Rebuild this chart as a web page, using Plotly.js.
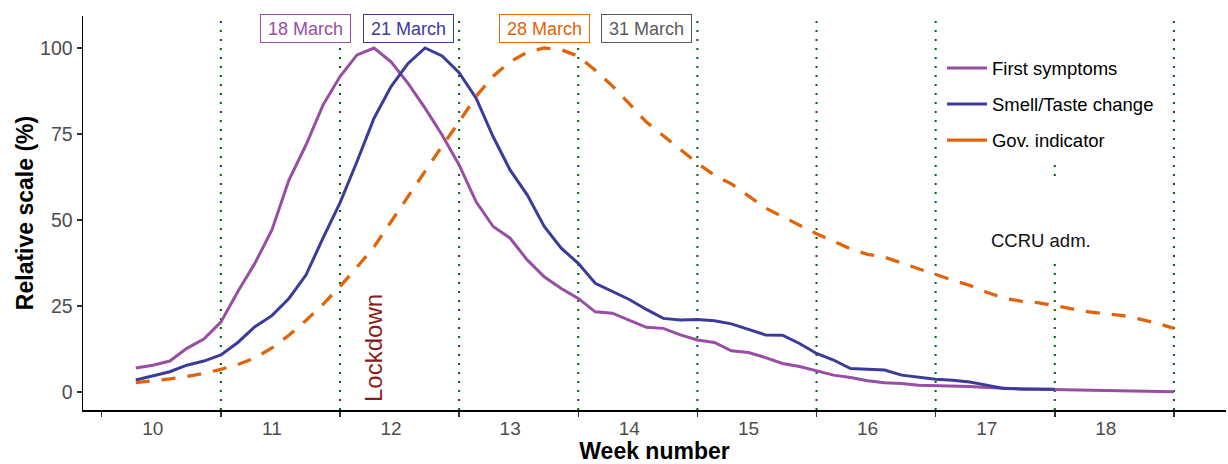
<!DOCTYPE html>
<html>
<head>
<meta charset="utf-8">
<script src="https://cdn.plot.ly/plotly-3.0.1.min.js"></script>
<style>html,body{margin:0;padding:0;background:#fff;}#chart{width:1228px;height:464px;}</style>
</head>
<body>
<div id="chart"></div>
<script>
// Day index: 0 = Monday 2 March 2020 (start of ISO week 10)
const days = [2,3,4,5,6,7,8,9,10,11,12,13,14,15,16,17,18,19,20,21,22,23,24,25,26,27,28,29,30,31,32,33,34,35,36,37,38,39,40,41,42,43,44,45,46,47,48,49,50,51,52,53,54,55,56,57,58,59,60,61,62,63];
const smellDays = [2,3,4,5,6,7,8,9,10,11,12,13,14,15,16,17,18,19,20,21,22,23,24,25,26,27,28,29,30,31,32,33,34,35,36,37,38,39,40,41,42,43,44,45,46,47,48,49,50,51,52,53,54,55,56];

const firstSymptoms = [7.0,7.8,9.0,12.7,15.4,20.3,29.2,37.4,47.1,61.6,
  71.8,83.4,91.7,98.0,100,96.0,89.7,82.5,74.7,66.0,
  55.3,48.1,44.7,38.4,33.5,30.1,27.2,23.3,22.9,20.9,
  18.8,18.5,16.6,15.1,14.4,12.0,11.5,10.0,8.3,7.4,
  6.1,4.9,4.2,3.3,2.7,2.5,2.0,1.9,1.9,1.6,
  1.3,1.0,0.9,0.8,0.7,0.6,0.5,0.5,0.4,0.3,
  0.2,0.1];

const smellTaste = [3.5,4.7,5.9,7.8,9.0,10.8,14.4,19.0,22.2,27.2,
  34.0,44.7,55.0,67.0,79.6,88.8,95.5,100,97.7,92.8,
  85.4,74.2,64.5,57.3,48.1,41.8,37.4,31.6,29.2,26.9,
  24.0,21.4,20.9,21.1,20.7,19.8,18.2,16.6,16.5,14.1,
  11.2,9.3,6.8,6.7,6.4,4.9,4.3,3.7,3.4,2.9,
  2.0,1.0,0.9,0.8,0.8];

const govIndicator = [2.7,3.2,3.8,4.5,5.4,6.6,8.0,9.9,12.8,16.5,
  20.8,25.5,30.7,36.3,42.2,49.5,56.8,64.5,71.5,78.5,
  86.0,91.8,96.0,98.8,100,99.5,97.6,93.5,89.0,83.8,
  78.5,74.5,70.5,66.5,63.0,60.5,57.0,53.5,51.0,48.5,
  46.0,43.8,41.6,40.0,39.2,37.5,35.8,34.2,32.5,31.0,
  29.0,27.3,26.4,26.0,25.2,24.2,23.3,22.7,22.2,21.2,
  20.0,18.5];

const seriesNames = ['First symptoms','Smell/Taste change','Gov. indicator'];
const weekTicks = [0,7,14,21,28,35,42,49,56,63];
const weekLines = [7,14,21,28,35,42,49,56,63];
const weekLabelDays = [3,10,17,24,31,38,45,52,59];
const weekLabels = ['10','11','12','13','14','15','16','17','18'];
const yTicks = [0,25,50,75,100];

const dateLabels = ['18 March','21 March','28 March','31 March'];
const dateLabelDays = [12,18,26,32];

const C_PURPLE = '#984EA3', C_BLUE = '#3B3B9B', C_ORANGE = '#E0640A', C_GREY = '#5A5A5A';
const dateColors = [C_PURPLE, C_BLUE, C_ORANGE, C_GREY];
const FONT = 'Liberation Sans, Arial, Helvetica, sans-serif';

const traces = [
  {x: days, y: firstSymptoms, type: 'scatter', mode: 'lines', showlegend: false,
   line: {color: C_PURPLE, width: 3}, hoverinfo: 'skip'},
  {x: smellDays, y: smellTaste, type: 'scatter', mode: 'lines', showlegend: false,
   line: {color: C_BLUE, width: 3}, hoverinfo: 'skip'},
  {x: days, y: govIndicator, type: 'scatter', mode: 'lines', showlegend: false,
   line: {color: C_ORANGE, width: 3.3, dash: '14px,12px'}, hoverinfo: 'skip'},
  // legend keys (solid, as in the reference key)
  {x: [null], y: [null], xaxis: 'x2', type: 'scatter', mode: 'lines', name: seriesNames[0],
   legendgroup: 'a', line: {color: C_PURPLE, width: 3}},
  {x: [null], y: [null], xaxis: 'x2', type: 'scatter', mode: 'lines', name: seriesNames[1],
   legendgroup: 'b', line: {color: C_BLUE, width: 3}},
  {x: [null], y: [null], xaxis: 'x2', type: 'scatter', mode: 'lines', name: seriesNames[2],
   legendgroup: 'c', line: {color: C_ORANGE, width: 3.3}}
];

const shapes = weekLines.map(d => ({
  type: 'line', xref: 'x', yref: 'paper', x0: d, x1: d, y0: 0, y1: 1, layer: 'below',
  line: {color: '#006400', width: 2, dash: '2px,7px'}
}));
// white background of the legend area (above the legend box)
shapes.push({type: 'rect', xref: 'paper', yref: 'paper', x0: 0.80, x1: 0.90, y0: 0.88, y1: 1.0,
  layer: 'below', fillcolor: '#ffffff', line: {width: 0}});

const annotations = dateLabels.map((t, i) => ({
  x: dateLabelDays[i], y: 105.7, xref: 'x', yref: 'y', text: t, showarrow: false,
  font: {family: FONT, size: 18, color: dateColors[i]},
  bgcolor: '#ffffff', bordercolor: dateColors[i], borderwidth: 1, borderpad: 2,
  width: 85, height: 23
}));
annotations.push({
  x: 16.0, y: 12.8, xref: 'x', yref: 'y', text: 'Lockdown', textangle: -90, showarrow: false,
  font: {family: FONT, size: 24, color: '#8B1A1A'}
});
annotations.push({
  x: 55.2, y: 49.3, xref: 'x', yref: 'y', text: 'CCRU adm.', showarrow: false,
  font: {family: FONT, size: 18.5, color: '#111111'},
  bgcolor: '#ffffff', borderwidth: 0, borderpad: 11, height: 57, valign: 'bottom'
});

const layout = {
  width: 1228, height: 464,
  margin: {l: 83, r: 2, t: 16, b: 54},
  paper_bgcolor: '#ffffff', plot_bgcolor: '#ffffff',
  font: {family: FONT, color: '#000000'},
  showlegend: true,
  legend: {
    x: 0.7515, xanchor: 'left', y: 0.915, yanchor: 'top',
    bgcolor: '#ffffff', borderwidth: 0, itemwidth: 40,
    traceorder: 'grouped', tracegroupgap: 9,
    font: {family: FONT, size: 18.5, color: '#000000'}
  },
  xaxis: {
    range: [-1.1, 66.06], showgrid: false, zeroline: false,
    showline: true, linecolor: '#000000', linewidth: 1.5,
    tickmode: 'array', tickvals: weekTicks, showticklabels: false,
    ticks: 'outside', ticklen: 5, tickwidth: 1.5, tickcolor: '#333333'
  },
  xaxis2: {
    overlaying: 'x', anchor: 'y', side: 'bottom',
    range: [-1.1, 66.06], showgrid: false, zeroline: false, showline: false,
    tickmode: 'array', tickvals: weekLabelDays, ticktext: weekLabels,
    ticks: 'outside', ticklen: 1, tickcolor: 'rgba(0,0,0,0)',
    tickfont: {family: FONT, size: 19, color: '#4D4D4D'},
    title: {text: 'Week number', standoff: 9,
            font: {family: FONT, size: 23, color: '#000000', weight: 700}}
  },
  yaxis: {
    range: [-5.23, 109.3], showgrid: false, zeroline: false,
    showline: true, linecolor: '#000000', linewidth: 1.5,
    tickmode: 'array', tickvals: yTicks,
    ticks: 'outside', ticklen: 5, tickwidth: 1.5, tickcolor: '#333333',
    tickfont: {family: FONT, size: 19.5, color: '#4D4D4D'},
    title: {text: 'Relative scale (%)', standoff: 0,
            font: {family: FONT, size: 23, color: '#000000', weight: 700}}
  },
  shapes: shapes,
  annotations: annotations
};

Plotly.newPlot('chart', traces, layout, {staticPlot: true, displayModeBar: false});
</script>
</body>
</html>
